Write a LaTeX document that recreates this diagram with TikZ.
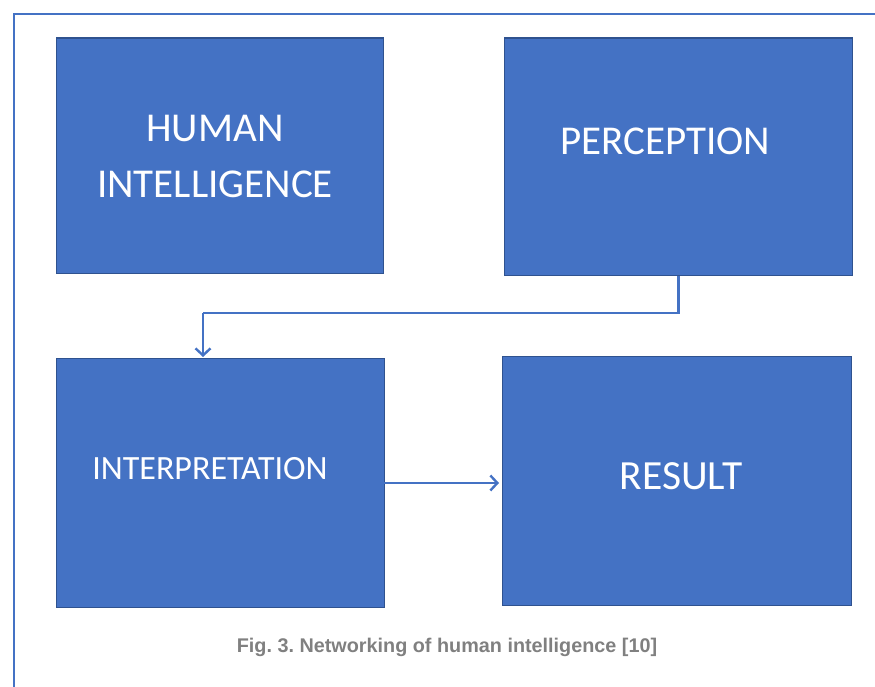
\documentclass[tikz,border=0pt]{standalone}
\usepackage{fontspec}
\setmainfont{Carlito}
\newfontfamily\capfont{Liberation Sans}
\usetikzlibrary{arrows.meta}
\definecolor{boxfill}{HTML}{4472C4}
\definecolor{boxedge}{HTML}{2F528F}
\definecolor{captiongray}{HTML}{808080}
\tikzset{
  blockbox/.style={draw=boxedge, line width=1.8pt, fill=boxfill, text=white, inner sep=0pt, anchor=north west, align=center},
  conn/.style={draw=boxfill, line width=2.4pt},
  connarrow/.style={conn, -{Straight Barb[length=7pt,width=15pt,line width=2.4pt]}},
}
\frenchspacing
\begin{document}
\begin{tikzpicture}[x=1pt,y=-1pt]
\useasboundingbox (0,0) rectangle (875,687);
% frame
\draw[draw=boxfill, line width=2.6pt] (14,687) -- (14,14) -- (875,14);
% boxes
\node[blockbox, minimum width=327pt, minimum height=235pt] (hi) at (55.5,37.5) {};
\node[blockbox, minimum width=348pt, minimum height=237pt] (pe) at (503.5,37.5) {};
\node[blockbox, minimum width=328pt, minimum height=249pt] (in) at (55.5,357.5) {};
\node[blockbox, minimum width=349pt, minimum height=249pt] (re) at (501.5,355.5) {};
% texts
\node[text=white, font=\fontsize{41}{56}\selectfont, align=center] (thi) at (215,156) {HUMAN\\INTELLIGENCE};
\node[text=white, font=\fontsize{41}{48}\selectfont] (tpe) at (665,141) {PERCEPTION};
\node[text=white, font=\fontsize{34}{40}\selectfont] (tin) at (210,469) {INTERPRETATION};
\node[text=white, font=\fontsize{41.5}{48}\selectfont] (tre) at (681,476) {RESULT};
% connectors
\coordinate (bend1) at (pe.south |- 0,313);
\coordinate (bend2) at (203,313);
\coordinate (inTop) at (203,357);
\draw[conn] (pe.south) -- (bend1) -- (bend2);
\draw[connarrow] (bend2) -- (inTop);
\coordinate (inRight) at (384,483);
\coordinate (reLeft) at (499,483);
\draw[connarrow] (inRight) -- (reLeft);
% caption
\node[text=captiongray, font=\capfont\bfseries\fontsize{19.8}{22}\selectfont] (cap) at (447,647) {Fig. 3. Networking of human intelligence [10]};
\end{tikzpicture}
\end{document}
